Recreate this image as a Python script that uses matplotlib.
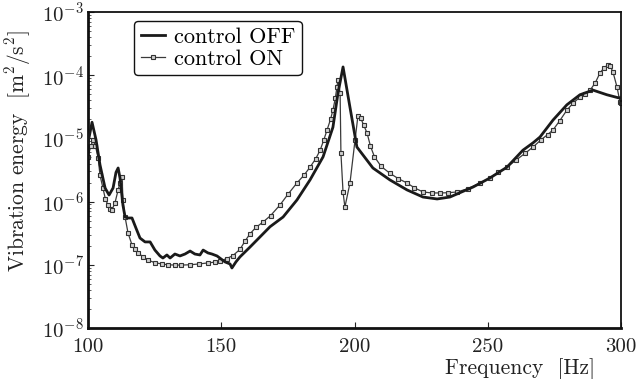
import numpy as np
import matplotlib
matplotlib.use("Agg")
import matplotlib.pyplot as plt
from matplotlib.ticker import LogLocator, FixedLocator, NullFormatter

# ---- data (frequency in Hz, energy in m^2/s^2) ----
freq_off = [100.0, 101.5, 103.0, 104.5, 106.4, 107.9, 109.4, 110.5, 111.3, 112.0,
            113.1, 113.9, 115.0, 116.5, 118.0, 119.5, 121.4, 123.3, 125.1, 127.0,
            128.1, 129.6, 130.8, 132.6, 134.5, 136.4, 138.3, 140.1, 142.0, 143.2,
            145.0, 146.5, 148.4, 151.4, 153.3, 154.0, 155.5, 157.0, 160.8, 164.5,
            168.3, 173.2, 178.4, 183.3, 188.2, 191.9, 193.8, 195.7, 198.3, 200.9,
            206.9, 213.3, 219.7, 225.7, 231.0, 235.8, 244.5, 250.8, 257.2, 263.2,
            267.0, 269.6, 274.5, 279.7, 284.6, 289.5, 294.7, 298.9, 300.0]
energy_off = [8.5e-6, 1.8e-5, 9.5e-6, 3.8e-6, 1.64e-6, 1.27e-6, 1.64e-6, 2.9e-6, 3.4e-6, 2.36e-6,
              8.8e-7, 5.7e-7, 5.5e-7, 5.5e-7, 3.8e-7, 2.65e-7, 2.3e-7, 2.3e-7, 1.71e-7, 1.38e-7,
              1.28e-7, 1.43e-7, 1.28e-7, 1.48e-7, 1.38e-7, 1.48e-7, 1.65e-7, 1.48e-7, 1.43e-7, 1.71e-7,
              1.54e-7, 1.48e-7, 1.38e-7, 1.11e-7, 1.03e-7, 8.9e-8, 1.11e-7, 1.33e-7, 1.91e-7, 2.75e-7,
              4.0e-7, 5.7e-7, 1.06e-6, 2.2e-6, 5.1e-6, 1.5e-5, 5.2e-5, 1.35e-4, 3.1e-5, 7.3e-6,
              3.4e-6, 2.2e-6, 1.53e-6, 1.18e-6, 1.1e-6, 1.18e-6, 1.7e-6, 2.36e-6, 3.5e-6, 6.5e-6,
              8.5e-6, 1.05e-5, 1.95e-5, 3.4e-5, 4.9e-5, 5.8e-5, 4.9e-5, 4.4e-5, 4.4e-5]

freq_on = [100.0, 101.0, 101.9, 102.8, 103.8, 104.5, 105.6, 106.5, 107.5, 108.3,
           109.0, 110.1, 111.3, 112.0, 112.8, 113.1, 113.9, 115.0, 116.5, 117.5,
           118.8, 120.5, 122.5, 125.0, 127.8, 130.0, 132.6, 135.0, 138.3, 141.5,
           145.0, 147.5, 149.5, 152.0, 154.4, 157.0, 159.0, 160.8, 163.0, 165.7,
           168.5, 172.0, 175.0, 178.4, 181.0, 183.3, 185.5, 187.1, 188.5, 189.7,
           191.0, 191.9, 192.8, 193.4, 193.8, 194.6, 194.9, 195.7, 196.4, 198.3,
           200.2, 201.3, 202.3, 203.5, 204.7, 206.0, 207.5, 210.0, 213.3, 216.5,
           219.7, 222.5, 225.7, 229.0, 232.1, 235.0, 238.5, 242.5, 247.1, 250.8,
           254.0, 257.2, 260.5, 264.0, 267.0, 270.0, 272.5, 274.5, 277.0, 279.7,
           282.0, 284.6, 286.5, 288.4, 290.3, 292.1, 293.7, 295.1, 296.0, 297.0,
           298.5, 299.6, 300.0]
energy_on = [5.0e-6, 7.5e-6, 9.4e-6, 7.5e-6, 4.9e-6, 2.6e-6, 1.64e-6, 1.1e-6, 8.8e-7, 7.6e-7,
             7.4e-7, 9.5e-7, 1.53e-6, 2.0e-6, 2.45e-6, 1.06e-6, 5.7e-7, 3.2e-7, 2.06e-7, 1.75e-7,
             1.54e-7, 1.35e-7, 1.19e-7, 1.08e-7, 1.03e-7, 1.0e-7, 9.9e-8, 9.9e-8, 1.0e-7, 1.03e-7,
             1.07e-7, 1.1e-7, 1.15e-7, 1.25e-7, 1.4e-7, 1.75e-7, 2.4e-7, 3.1e-7, 3.9e-7, 4.75e-7,
             6.0e-7, 8.8e-7, 1.3e-6, 1.97e-6, 2.6e-6, 3.5e-6, 4.8e-6, 6.5e-6, 9.5e-6, 1.36e-5,
             2.0e-5, 2.8e-5, 4.3e-5, 6.5e-5, 8.4e-5, 5.2e-5, 5.9e-6, 1.4e-6, 8.2e-7, 1.97e-6,
             9.4e-6, 2.3e-5, 2.1e-5, 1.6e-5, 1.22e-5, 7.5e-6, 5.1e-6, 3.6e-6, 2.8e-6, 2.3e-6,
             1.97e-6, 1.65e-6, 1.42e-6, 1.37e-6, 1.37e-6, 1.38e-6, 1.42e-6, 1.6e-6, 1.97e-6, 2.36e-6,
             2.9e-6, 3.5e-6, 4.5e-6, 5.8e-6, 7.3e-6, 9.5e-6, 1.15e-5, 1.36e-5, 1.9e-5, 2.8e-5,
             3.6e-5, 4.5e-5, 5.1e-5, 5.8e-5, 7.5e-5, 1.08e-4, 1.32e-4, 1.45e-4, 1.38e-4, 1.12e-4,
             6.5e-5, 3.8e-5, 3.6e-5]

series_labels = ["control OFF", "control ON"]
xticks = [100, 150, 200, 250, 300]

# ---- style: computer-modern look ----
plt.rcParams["font.family"] = ["cmr10", "DejaVu Serif"]
plt.rcParams["mathtext.fontset"] = "cm"
plt.rcParams["axes.formatter.use_mathtext"] = True

fig = plt.figure(figsize=(6.36, 3.79), dpi=100)
ax = fig.add_axes([0.1384, 0.1346, 0.838, 0.8338])

ax.plot(freq_off, energy_off, color="#1a1a1a", lw=2.0, label=series_labels[0], zorder=3)
ax.plot(freq_on, energy_on, color="#3a3a3a", lw=0.9, marker="s", ms=2.6,
        mfc="#cfcfcf", mec="#333333", mew=0.8, label=series_labels[1], zorder=2)

ax.set_yscale("log")
ax.set_xlim(100, 300)
ax.set_ylim(1e-8, 1e-3)

ax.xaxis.set_major_locator(FixedLocator(xticks))
ax.set_xticklabels([str(t) for t in xticks])
ax.yaxis.set_major_locator(LogLocator(base=10, numticks=10))
ax.yaxis.set_minor_locator(LogLocator(base=10, subs=np.arange(2, 10), numticks=10))
ax.yaxis.set_minor_formatter(NullFormatter())

ax.tick_params(axis="both", which="major", direction="in", labelsize=15,
               top=False, right=False, length=4, width=0.8, colors="#222222")
ax.tick_params(axis="y", which="minor", direction="in", left=True, right=False,
               length=2, width=0.6, colors="#444444")
ax.tick_params(axis="x", which="major", pad=7)
ax.tick_params(axis="y", which="major", pad=3)

for side in ["left", "bottom"]:
    ax.spines[side].set_linewidth(2.0)
for side in ["top", "right"]:
    ax.spines[side].set_linewidth(1.3)
for s in ax.spines.values():
    s.set_color("#111111")

ax.set_xlabel("Frequency  [Hz]", fontsize=15.5, color="#222222")
ax.xaxis.set_label_coords(0.81, -0.095)
ax.set_ylabel(r"Vibration energy  [m$^2$/s$^2$]", fontsize=15.5, color="#222222")
ax.yaxis.set_label_coords(-0.104, 0.56)

leg = ax.legend(loc="upper left", bbox_to_anchor=(0.086, 0.972), borderaxespad=0,
                fontsize=16, frameon=True, fancybox=True, edgecolor="#111111",
                framealpha=1, handlelength=1.1, handletextpad=0.4,
                labelspacing=0.1, borderpad=0.3)
leg.get_frame().set_linewidth(1.0)

fig.savefig("out.png", dpi=100)
